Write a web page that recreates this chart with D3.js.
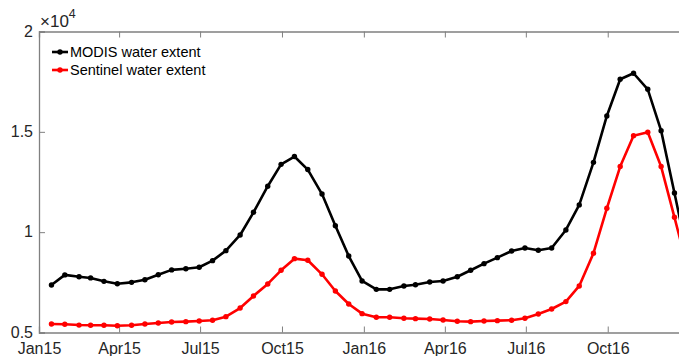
<!DOCTYPE html>
<html>
<head>
<meta charset="utf-8">
<script src="https://cdn.jsdelivr.net/npm/d3@7"></script>
<style>
body{margin:0;background:#fff;}
text{font-family:"Liberation Sans",Arial,sans-serif;}
</style>
</head>
<body>
<svg id="chart" width="679" height="356"></svg>
<script>
// values in units of 10^4, one point on the 15th and the 30th of each month
let modis=[0.737,0.787,0.778,0.772,0.755,0.743,0.750,0.763,0.788,0.812,0.818,0.825,
    0.858,0.908,0.986,1.099,1.229,1.338,1.377,1.312,1.190,1.032,0.881,0.757,
    0.715,0.715,0.732,0.738,0.752,0.757,0.778,0.810,0.843,0.873,0.906,0.921,
    0.910,0.921,1.011,1.136,1.348,1.579,1.762,1.792,1.712,1.506,1.195,0.881];
let sentinel=[0.542,0.541,0.537,0.536,0.536,0.534,0.536,0.542,0.547,0.552,0.554,0.557,
    0.561,0.579,0.622,0.682,0.742,0.810,0.868,0.860,0.790,0.707,0.642,0.594,
    0.576,0.576,0.571,0.569,0.567,0.562,0.556,0.554,0.557,0.559,0.561,0.571,
    0.592,0.617,0.654,0.732,0.895,1.119,1.327,1.481,1.498,1.327,1.074,0.817];
let tickDates=["2015-01-01","2015-04-01","2015-07-01","2015-10-01","2016-01-01","2016-04-01","2016-07-01","2016-10-01"];
let tickNames=["Jan15","Apr15","Jul15","Oct15","Jan16","Apr16","Jul16","Oct16"];
let yTicks=[5000,10000,15000,20000];
let yNames=["0.5","1","1.5","2"];
let seriesNames=["MODIS water extent","Sentinel water extent"];

let dates=[];
for(let m=0;m<24;m++){
    let yr=2015+Math.floor(m/12), mo=m%12;
    dates.push(new Date(yr,mo,15));
    dates.push(new Date(yr,mo,mo==1?28:30));
}

const svg=d3.select("#chart");
const plotL=39, plotR=689.6, plotT=31.5, plotB=332.5;
const parse=d3.timeParse("%Y-%m-%d");

let x=d3.scaleTime().domain([new Date(2015,0,1),new Date(2017,0,1)]).range([plotL,plotR]);
let y=d3.scaleLinear().domain([5000,20000]).range([plotB,plotT]);

svg.append("clipPath").attr("id","clip").append("rect")
    .attr("x",plotL).attr("y",plotT).attr("width",plotR-plotL).attr("height",plotB-plotT);

// axes, matlab style ticks inside the box
let xAxis=d3.axisBottom(x).tickValues(tickDates.map(parse)).tickSize(-6).tickPadding(10)
    .tickFormat((d,i)=>tickNames[i]);
let gx=svg.append("g").attr("transform","translate(0,"+plotB+")").call(xAxis);
let gxTop=svg.append("g").attr("transform","translate(0,"+plotT+")")
    .call(d3.axisTop(x).tickValues(tickDates.map(parse)).tickSize(-6).tickFormat(""));
let gy=svg.append("g").attr("transform","translate("+plotL+",0)")
    .call(d3.axisLeft(y).tickValues(yTicks).tickSize(-6).tickPadding(6).tickFormat((d,i)=>yNames[i]));

[gx,gxTop,gy].forEach(function(g){
    g.select(".domain").attr("stroke","#808080").attr("stroke-width",1.3);
    g.selectAll(".tick line").attr("stroke","#808080").attr("stroke-width",1);
    g.selectAll("text").attr("fill","#262626").style("font-size","16px");
});
gx.selectAll("text").attr("dy","0.71em");
gy.selectAll("text").attr("dy","0.3em");

// x10^4 multiplier
let mult=svg.append("text").attr("x",40).attr("y",27).attr("fill","#262626").style("font-size","17px");
mult.append("tspan").text("\u00d710");
mult.append("tspan").attr("dy",-9).style("font-size","12.5px").text("4");

let line=d3.line().x((d,i)=>x(dates[i])).y(d=>y(d*1e4));

function drawSeries(data,color){
    let g=svg.append("g").attr("clip-path","url(#clip)");
    g.append("path").datum(data).attr("d",line).attr("fill","none")
        .attr("stroke",color).attr("stroke-width",2.6).attr("stroke-linejoin","round");
    g.selectAll("circle").data(data).enter().append("circle")
        .attr("cx",(d,i)=>x(dates[i])).attr("cy",d=>y(d*1e4)).attr("r",2.7).attr("fill",color);
}
drawSeries(modis,"#000000");
drawSeries(sentinel,"#ff0000");

// legend
let colors=["#000000","#ff0000"];
seriesNames.forEach(function(name,i){
    let ly=52+i*18;
    svg.append("line").attr("x1",52).attr("x2",68).attr("y1",ly).attr("y2",ly)
        .attr("stroke",colors[i]).attr("stroke-width",2.6);
    svg.append("circle").attr("cx",60).attr("cy",ly).attr("r",2.7).attr("fill",colors[i]);
    svg.append("text").attr("x",70).attr("y",ly).attr("dy","0.35em")
        .style("font-size","14.5px").attr("fill","#000").text(name);
});
</script>
</body>
</html>
